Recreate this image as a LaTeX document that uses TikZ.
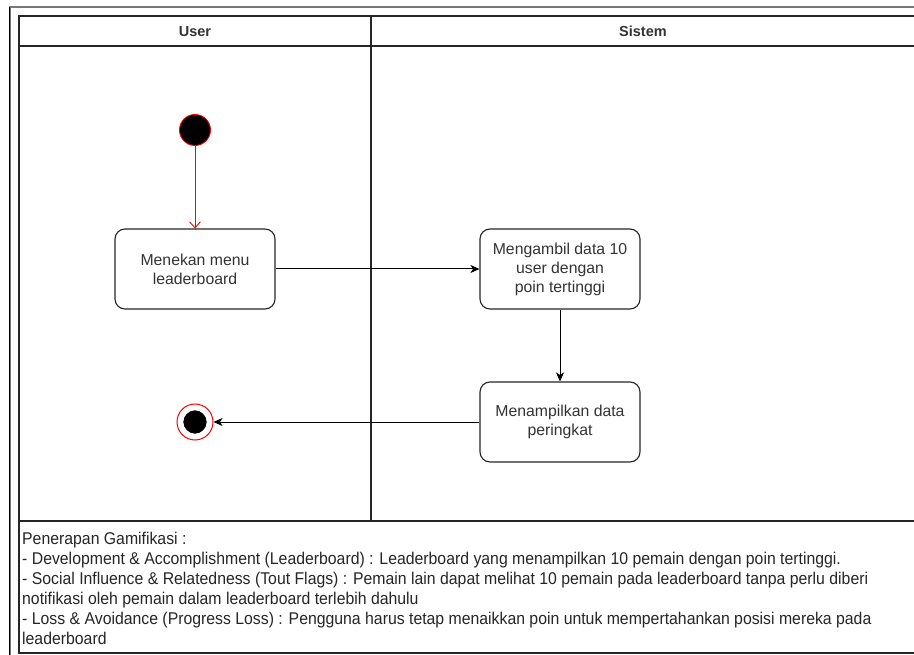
\documentclass[tikz,border=0pt]{standalone}
\usepackage{fontspec}
\setmainfont{Liberation Sans}
\newfontfamily\notefont[FakeStretch=0.93]{Liberation Sans}
\usetikzlibrary{arrows.meta}
\definecolor{txt}{HTML}{333333}
\definecolor{frame}{HTML}{777777}
\definecolor{redline}{HTML}{FF0000}
\tikzset{
  act/.style={draw=black!85, line width=1.1pt, rounded corners=10pt, fill=white,
    minimum width=160pt, minimum height=80pt, align=center, text=txt,
    font=\fontsize{15.8}{19}\selectfont, inner sep=2pt},
  lane/.style={draw=black!85, line width=1.4pt},
  head/.style={font=\fontsize{14.5}{17}\selectfont\bfseries, text=txt, anchor=base, inner sep=0pt},
  flow/.style={draw=black, line width=1pt, -{Stealth[length=9pt,width=8pt,inset=2.5pt]}},
  startdot/.style={circle, fill=black, draw=redline, line width=0.9pt, minimum size=31pt, inner sep=0pt},
  enddot/.style={circle, fill=black, draw=white, line width=2.5pt, minimum size=26pt, inner sep=0pt},
  endring/.style={circle, draw=redline, line width=1pt, minimum size=36pt, inner sep=0pt},
  note/.style={anchor=north west, align=left, text=black!85, inner sep=0pt,
    font=\notefont\fontsize{17}{20}\selectfont}
}
\begin{document}
\begin{tikzpicture}[x=1pt,y=-1pt]
\useasboundingbox (0,0) rectangle (914,655);
\clip (0,0) rectangle (914,655);
\fill[white] (0,0) rectangle (914,655);

% outer frame
\draw[frame, line width=1.3pt] (10,655) -- (10,7) -- (920,7);
\draw[black, line width=0.6pt] (9.5,655) -- (9.5,7);

% swimlanes
\draw[lane] (19,16) rectangle (920,521);
\draw[lane] (19,46) -- (920,46);
\draw[lane] (371,16) -- (371,521);
\node[head] (hu) at (195,37) {User};
\node[head] (hs) at (643,37) {Sistem};

% note box
\draw[lane] (19,521) rectangle (920,653);
\node[note] (nt) at (22,531.5) {Penerapan Gamifikasi :\\
- Development \& Accomplishment (Leaderboard) : Leaderboard yang menampilkan 10 pemain dengan poin tertinggi.\\
- Social Influence \& Relatedness (Tout Flags) : Pemain lain dapat melihat 10 pemain pada leaderboard tanpa perlu diberi\\
notifikasi oleh pemain dalam leaderboard terlebih dahulu\\
- Loss \& Avoidance (Progress Loss) : Pengguna harus tetap menaikkan poin untuk mempertahankan posisi mereka pada\\
leaderboard};

% activity nodes
\node[startdot] (s) at (195,130) {};
\node[act] (a) at (195,269) {Menekan menu\\leaderboard};
\node[act] (b) at (560,269) {Mengambil data 10\\user dengan\\poin tertinggi};
\node[act] (c) at (560,422) {Menampilkan data\\peringkat};
\node[endring] (e) at (195,422) {};
\node[enddot] at (195,422) {};

% connectors
\draw[redline, line width=0.9pt, -{Straight Barb[length=6pt,width=11pt]}] (s) -- (a);
\draw[flow] (a) -- (b);
\draw[flow] (b) -- (c);
\draw[flow] (c) -- (e);
\end{tikzpicture}
\end{document}
